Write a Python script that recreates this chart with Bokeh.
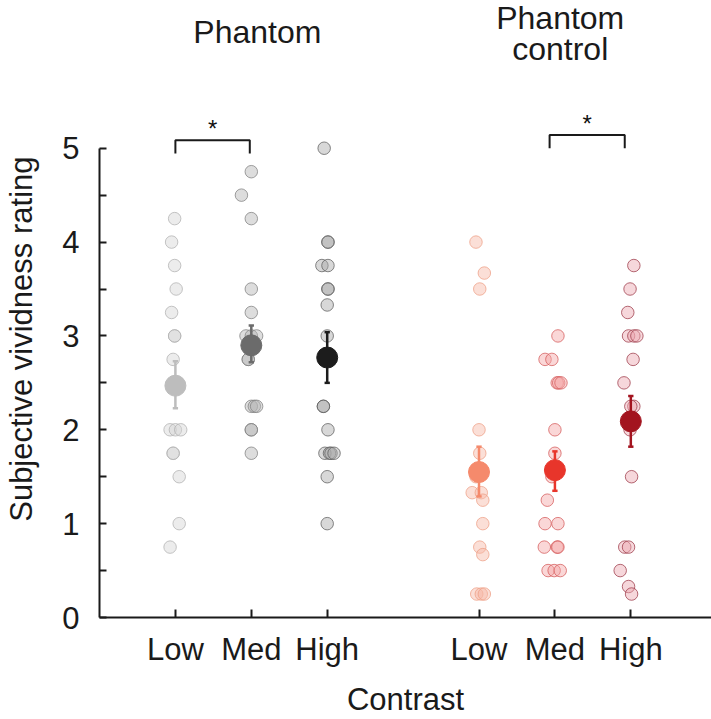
from bokeh.plotting import figure
from bokeh.models import ColumnDataSource, Range1d, FixedTicker
from bokeh.core.properties import value
from bokeh.embed import file_html
from bokeh.resources import INLINE

# ---------------- data ----------------
conditions = ["Low", "Med", "High", "Low", "Med", "High"]
panel_titles = ["Phantom", "Phantom", "control"]
y_title = "Subjective vividness rating"
x_title = "Contrast"

phantom_low = [4.25, 4.0, 3.75, 3.5, 3.25, 3.0, 3.0, 2.75, 2.0, 2.0, 2.0, 1.75, 1.75, 1.5, 1.0, 0.75]
phantom_low_jit = [-0.01, -0.05, -0.01, 0.01, -0.05, -0.01, -0.01, -0.03, -0.07, 0.0, 0.07, -0.03, -0.03, 0.05, 0.05, -0.07]

phantom_med = [4.75, 4.5, 4.25, 3.5, 3.25, 3.0, 3.0, 3.0, 2.75, 2.75, 2.25, 2.25, 2.25, 2.0, 2.0, 1.75]
phantom_med_jit = [0.0, -0.13, 0.0, 0.0, 0.0, -0.07, 0.0, 0.07, -0.04, -0.04, 0.0, 0.04, 0.07, 0.0, 0.0, 0.0]

phantom_high = [5.0, 4.0, 4.0, 3.75, 3.75, 3.5, 3.5, 3.33, 3.0, 2.25, 2.25, 2.0, 1.75, 1.75, 1.75, 1.75, 1.5, 1.0]
phantom_high_jit = [-0.04, 0.01, 0.01, -0.07, 0.01, 0.01, 0.01, 0.0, 0.0, -0.05, -0.05, 0.01, -0.03, 0.03, 0.05, 0.09, 0.0, 0.0]

control_low = [4.0, 3.67, 3.5, 2.0, 1.75, 1.5, 1.33, 1.33, 1.25, 1.0, 0.75, 0.67, 0.25, 0.25, 0.25]
control_low_jit = [-0.04, 0.07, 0.01, 0.0, 0.01, -0.04, -0.09, 0.03, 0.05, 0.05, 0.01, 0.05, -0.03, 0.03, 0.07]

control_med = [3.0, 2.75, 2.75, 2.5, 2.5, 2.5, 2.0, 1.75, 1.5, 1.25, 1.0, 1.0, 0.75, 0.75, 0.75, 0.5, 0.5, 0.5]
control_med_jit = [0.04, -0.13, -0.04, 0.03, 0.05, 0.08, 0.0, 0.0, -0.04, -0.1, -0.13, 0.04, -0.14, 0.03, 0.04, -0.09, -0.01, 0.07]

control_high = [3.75, 3.5, 3.25, 3.0, 3.0, 3.0, 2.75, 2.5, 2.25, 2.25, 2.0, 1.5, 0.75, 0.75, 0.5, 0.33, 0.25]
control_high_jit = [0.04, -0.01, -0.04, -0.03, 0.04, 0.08, 0.03, -0.09, 0.04, 0.0, -0.01, 0.01, -0.08, -0.03, -0.14, -0.03, 0.01]

means = [2.47, 2.90, 2.77, 1.55, 1.57, 2.09]
err_low = [2.23, 2.72, 2.50, 1.29, 1.35, 1.82]
err_high = [2.73, 3.11, 3.04, 1.82, 1.77, 2.36]

# significance brackets: (left slot, right slot, label)
sig_pairs = [(1.0, 1.98, "*"), (5.93, 6.92, "*")]

# ---------------- styling ----------------
slots = [1, 2, 3, 5, 6, 7]
mean_colors = ["#bdbdbd", "#6b6b6b", "#1c1c1c", "#f58a6c", "#e8352b", "#a3141f"]
pt_fill = ["#d4d4d4", "#b4b4b4", "#a8a8a8", "#f7b9a6", "#f4a7a7", "#eaa7b0"]
pt_line = ["#b0b0b0", "#808080", "#5e5e5e", "#ee9f86", "#d45a5a", "#9c3a48"]
FONT = "Liberation Sans"
INK = "#1a1a1a"
NBSP = "\u00a0"

all_vals = [phantom_low, phantom_med, phantom_high, control_low, control_med, control_high]
all_jit = [phantom_low_jit, phantom_med_jit, phantom_high_jit,
           control_low_jit, control_med_jit, control_high_jit]

p = figure(width=711, height=719, output_backend="svg", toolbar_location=None,
           x_range=Range1d(0, 8.063), y_range=Range1d(0, 6.574),
           min_border_left=99, min_border_right=0, min_border_top=0,
           min_border_bottom=101)
p.outline_line_color = None
p.xgrid.visible = False
p.ygrid.visible = False
p.background_fill_color = "white"
p.border_fill_color = "white"

# individual points
for i, (vals, jit) in enumerate(zip(all_vals, all_jit)):
    src = ColumnDataSource(dict(x=[slots[i] + j for j in jit], y=vals))
    p.scatter("x", "y", source=src, size=12.5, fill_color=pt_fill[i], fill_alpha=0.45,
              line_color=pt_line[i], line_alpha=0.75, line_width=1)

# error bars + means
cap = 0.035
for i in range(6):
    c = mean_colors[i]
    p.segment(x0=[slots[i]], y0=[err_low[i]], x1=[slots[i]], y1=[err_high[i]],
              line_color=c, line_width=2.5)
    p.segment(x0=[slots[i] - cap, slots[i] - cap], y0=[err_low[i], err_high[i]],
              x1=[slots[i] + cap, slots[i] + cap], y1=[err_low[i], err_high[i]],
              line_color=c, line_width=2.5)
mean_src = ColumnDataSource(dict(x=slots, y=means, c=mean_colors))
p.scatter("x", "y", source=mean_src, size=21, fill_color="c", line_color="c")

# significance brackets
for (a, b, lab), ytop in zip(sig_pairs, [5.085, 5.14]):
    p.line(x=[a, a, b, b], y=[ytop - 0.14, ytop, ytop, ytop - 0.14],
           line_color=INK, line_width=2)
    p.text(x=[(a + b) / 2], y=[ytop + 0.12], text=[lab], text_font=value(FONT),
           text_font_size=value("24px"), text_align="center", text_baseline="middle",
           text_color="#111")

# panel titles
p.text(x=[2.08, 6.07, 6.07], y=[6.234, 6.39, 6.06], text=panel_titles,
       text_font=value(FONT), text_font_size=value("32px"), text_align="center",
       text_baseline="middle", text_color=INK)

# axes
ya = p.yaxis[0]
ya.ticker = FixedTicker(ticks=[0, 1, 2, 3, 4, 5], minor_ticks=[0.5, 1.5, 2.5, 3.5, 4.5])
ya.bounds = (0, 5)
# trailing no-break spaces nudge the centred title down, as in the reference
ya.axis_label = y_title + NBSP * 7
ya.major_tick_in = 7
ya.major_tick_out = 0
ya.minor_tick_in = 7
ya.minor_tick_out = 0
ya.major_label_standoff = 20
ya.axis_label_standoff = 20

xa = p.xaxis[0]
xa.ticker = FixedTicker(ticks=slots)
xa.major_label_overrides = {s: c for s, c in zip(slots, conditions)}
xa.axis_label = x_title
xa.major_tick_in = 8
xa.major_tick_out = 0
xa.major_label_standoff = 14
xa.axis_label_standoff = 12

for ax in (xa, ya):
    ax.axis_line_width = 2
    ax.axis_line_color = INK
    ax.major_tick_line_width = 2
    ax.major_tick_line_color = INK
    ax.minor_tick_line_width = 2
    ax.minor_tick_line_color = INK
    ax.major_label_text_font = FONT
    ax.major_label_text_font_size = "31px"
    ax.major_label_text_color = INK
    ax.axis_label_text_font = FONT
    ax.axis_label_text_font_size = "31px"
    ax.axis_label_text_font_style = "normal"
    ax.axis_label_text_color = INK

open("out.html", "w").write(file_html(p, INLINE))
